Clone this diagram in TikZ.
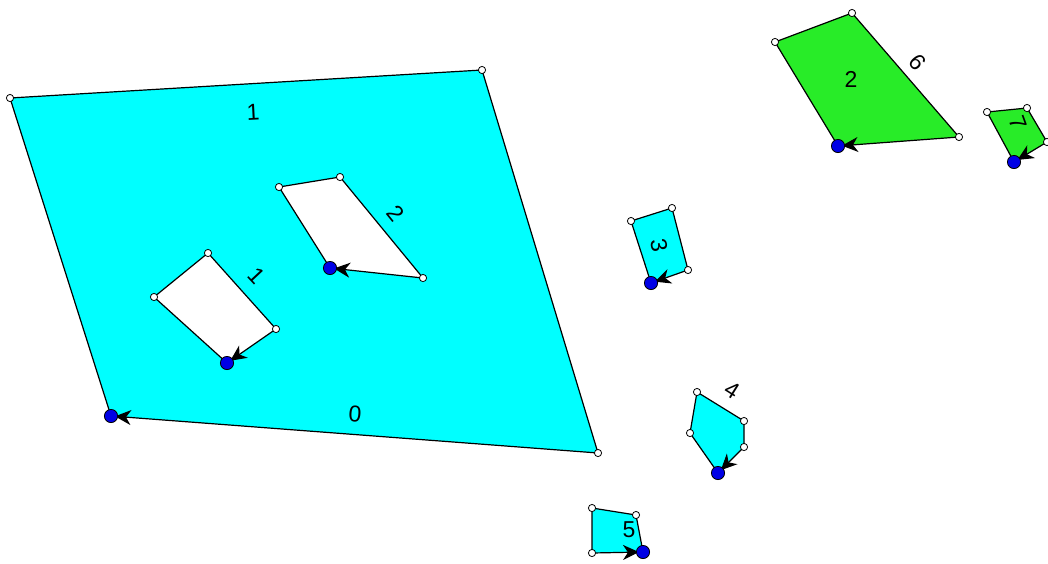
\documentclass[tikz,border=0pt]{standalone}
\usepackage{fontspec}
\setmainfont{Liberation Sans}
\usetikzlibrary{arrows.meta}
\definecolor{facecyan}{RGB}{0,255,255}
\definecolor{facegreen}{RGB}{40,236,40}

\begin{document}
\begin{tikzpicture}[x=0.5pt,y=-0.5pt,>=Stealth,
    edge/.style={black,line width=0.6pt},
    lastedge/.style={edge,-{Stealth[length=8pt,width=7.5pt,inset=2.5pt]},shorten >=2pt},
    corner/.style={fill=white,draw=black,line width=0.4pt},
    start/.style={fill=blue!90!black,draw=black,line width=0.4pt},
    tag/.style={inner sep=0pt,font=\fontsize{11.5}{13}\selectfont}]
  \useasboundingbox (0,0) rectangle (1048,563);

  % outer face with two holes
  \coordinate (o0) at (111,416); \coordinate (o1) at (10,98);
  \coordinate (o2) at (482,70);  \coordinate (o3) at (598,453);
  \coordinate (a0) at (227,363); \coordinate (a1) at (154,297);
  \coordinate (a2) at (208,253); \coordinate (a3) at (276,329);
  \coordinate (b0) at (330,268); \coordinate (b1) at (279,187);
  \coordinate (b2) at (340,177); \coordinate (b3) at (423,278);
  \fill[facecyan] (o0) -- (o1) -- (o2) -- (o3) -- cycle;
  \fill[white] (a0) -- (a1) -- (a2) -- (a3) -- cycle;
  \fill[white] (b0) -- (b1) -- (b2) -- (b3) -- cycle;
  \draw[edge] (o0) -- (o1) -- (o2) -- (o3);
  \draw[lastedge] (o3) -- (o0);
  \draw[edge] (a0) -- (a1) -- (a2) -- (a3);
  \draw[lastedge] (a3) -- (a0);
  \draw[edge] (b0) -- (b1) -- (b2) -- (b3);
  \draw[lastedge] (b3) -- (b0);

  % green faces
  \coordinate (g0) at (838,146); \coordinate (g1) at (775,42);
  \coordinate (g2) at (852,13);  \coordinate (g3) at (959,137);
  \coordinate (h0) at (1014,162); \coordinate (h1) at (987,112);
  \coordinate (h2) at (1027,108); \coordinate (h3) at (1047,142);
  \fill[facegreen] (g0) -- (g1) -- (g2) -- (g3) -- cycle;
  \fill[facegreen] (h0) -- (h1) -- (h2) -- (h3) -- cycle;
  \draw[edge] (g0) -- (g1) -- (g2) -- (g3);
  \draw[lastedge] (g3) -- (g0);
  \draw[edge] (h0) -- (h1) -- (h2) -- (h3);
  \draw[lastedge] (h3) -- (h0);

  % small cyan faces
  \coordinate (c0) at (651,283); \coordinate (c1) at (631,221);
  \coordinate (c2) at (672,208); \coordinate (c3) at (688,270);
  \coordinate (d0) at (718,473); \coordinate (d1) at (690,433);
  \coordinate (d2) at (697,392); \coordinate (d3) at (744,421);
  \coordinate (d4) at (744,447);
  \coordinate (e0) at (643,552); \coordinate (e1) at (636,515);
  \coordinate (e2) at (592,508); \coordinate (e3) at (592,553);
  \fill[facecyan] (c0) -- (c1) -- (c2) -- (c3) -- cycle;
  \fill[facecyan] (d0) -- (d1) -- (d2) -- (d3) -- (d4) -- cycle;
  \fill[facecyan] (e0) -- (e1) -- (e2) -- (e3) -- cycle;
  \draw[edge] (c0) -- (c1) -- (c2) -- (c3);
  \draw[lastedge] (c3) -- (c0);
  \draw[edge] (d0) -- (d1) -- (d2) -- (d3) -- (d4);
  \draw[lastedge] (d4) -- (d0);
  \draw[edge] (e0) -- (e1) -- (e2) -- (e3);
  \draw[lastedge] (e3) -- (e0);

  % vertex marks
  \foreach \p in {o1,o2,o3,a1,a2,a3,b1,b2,b3,g1,g2,g3,h1,h2,h3,
                  c1,c2,c3,d1,d2,d3,d4,e1,e2,e3}
    \filldraw[corner] (\p) circle (1.8pt);
  \foreach \p in {o0,a0,b0,g0,h0,c0,d0,e0}
    \filldraw[start] (\p) circle (3.3pt);

  % labels
  \node[tag,rotate=3] (t1) at (253,112) {1};
  \node[tag,rotate=-4] (t0) at (355,414) {0};
  \node[tag,rotate=-47] (ta) at (257,276) {1};
  \node[tag,rotate=-51] (tb) at (396,213) {2};
  \node[tag] (tg) at (851,79) {2};
  \node[tag,rotate=-50] (t6) at (918,62) {6};
  \node[tag,rotate=-70] (t7) at (1018,123) {7};
  \node[tag,rotate=-80] (t3) at (659,245) {3};
  \node[tag,rotate=-32] (t4) at (732,390) {4};
  \node[tag] (t5) at (629,530) {5};
\end{tikzpicture}
\end{document}
